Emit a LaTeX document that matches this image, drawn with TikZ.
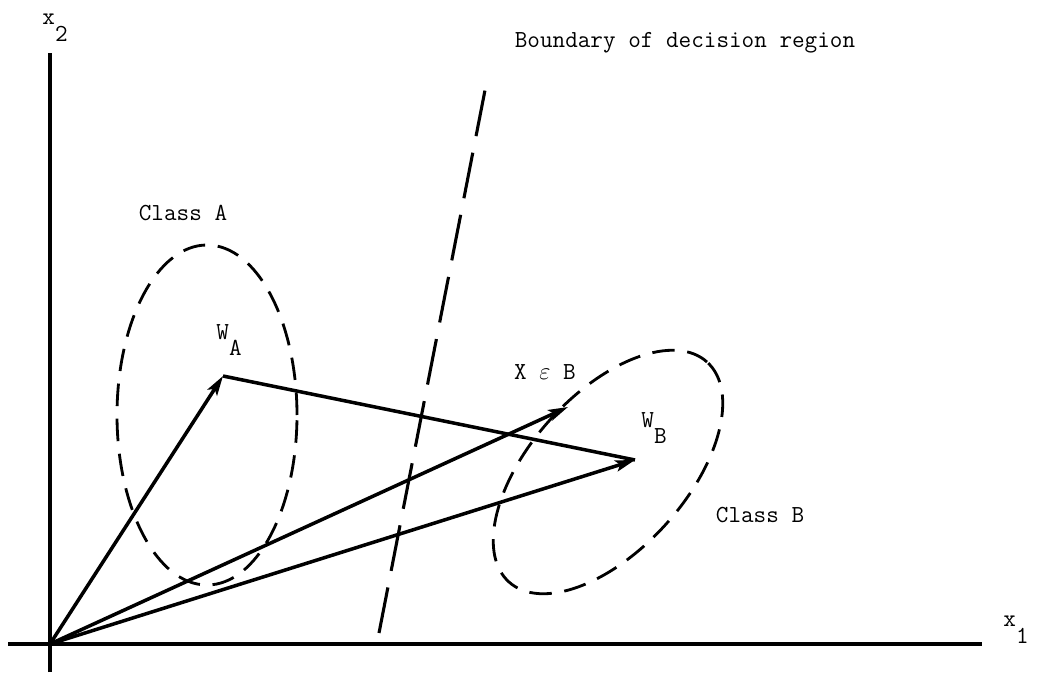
\documentclass[tikz,border=0pt]{standalone}
\usetikzlibrary{arrows.meta}
\newcommand{\lowsub}[1]{\raisebox{-12pt}{#1}}
\tikzset{
  vec/.style={line width=2.5pt,-{Stealth[length=14pt,width=8pt,inset=3pt]}},
  axis/.style={line width=2.7pt},
  region/.style={line width=2pt,dash pattern=on 16pt off 9pt},
  lbl/.style={font=\fontsize{17.4}{20}\ttfamily,inner sep=0pt}
}
\begin{document}
\begin{tikzpicture}[x=0.025cm,y=0.025cm]
\useasboundingbox (0,0) rectangle (1040,673);
\coordinate (o) at (50,29);
\coordinate (xend) at (982,29);
\coordinate (xbeg) at (8,29);
\coordinate (ytop) at (50,620);
\coordinate (ybot) at (50,1);
\coordinate (wa) at (223,297);
\coordinate (wb) at (635,213);
\coordinate (xb) at (568,266);
\coordinate (bdlo) at (379,40);
\coordinate (bdhi) at (487,593);

\draw[axis] (xbeg)--(xend);
\draw[axis] (ybot)--(ytop);
\node[lbl] (xone) at (1016,43) {x\lowsub{1}};
\node[lbl] (xtwo) at (55,645) {x\lowsub{2}};

\draw[region] (207,258) ellipse [x radius=90,y radius=170];
\draw[region,rotate around={48:(608,201)}] (608,201) ellipse [x radius=148,y radius=78];
\draw[line width=2.2pt,dash pattern=on 33pt off 12pt] (bdlo)--(bdhi);

\draw[vec] (o)--(wa);
\draw[vec] (o)--(xb);
\draw[vec] (o)--(wb);
\draw[line width=2.5pt] (wa)--(wb);

\node[lbl] (cla) at (183,460) {Class A};
\node[lbl] (clb) at (760,158) {Class B};
\node[lbl] (wal) at (229,333) {W\lowsub{A}};
\node[lbl] (wbl) at (654,245) {W\lowsub{B}};
\node[lbl] (xbl) at (545,301) {X $\varepsilon$ B};
\node[lbl] (bnd) at (685,630) {Boundary of decision region};
\end{tikzpicture}
\end{document}
